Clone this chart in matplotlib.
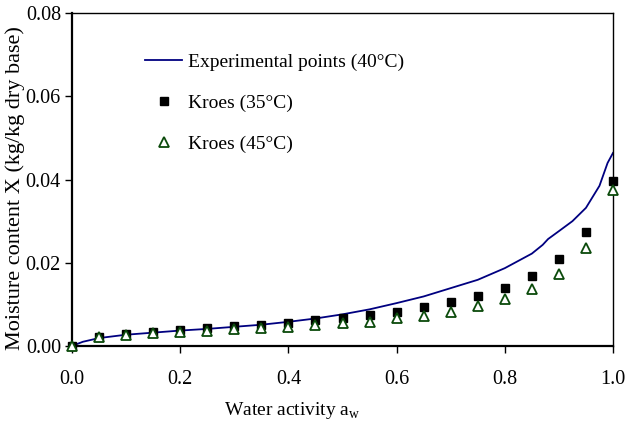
import numpy as np
import matplotlib
matplotlib.use("Agg")
import matplotlib.pyplot as plt

plt.rcParams['font.family'] = ['Liberation Serif', 'DejaVu Serif']
plt.rcParams['mathtext.fontset'] = 'custom'
plt.rcParams['mathtext.rm'] = 'Liberation Serif'

# experimental sorption curve at 40 C
aw_exp = [0.0, 0.02, 0.05, 0.1, 0.15, 0.2, 0.25, 0.3, 0.35, 0.4, 0.45, 0.5,
          0.55, 0.6, 0.65, 0.7, 0.75, 0.8, 0.85, 0.87, 0.88, 0.9, 0.925,
          0.95, 0.975, 0.99, 1.0]
x_exp = [0.0, 0.0010, 0.0019, 0.0027, 0.0032, 0.0037, 0.0041, 0.0046, 0.0051,
         0.0058, 0.0066, 0.0076, 0.0088, 0.0103, 0.0119, 0.0139, 0.0159,
         0.0187, 0.0222, 0.0243, 0.0257, 0.0276, 0.0300, 0.0332, 0.0385,
         0.0440, 0.0464]

# Kroes model points
aw_kroes = [0.0, 0.05, 0.1, 0.15, 0.2, 0.25, 0.3, 0.35, 0.4, 0.45, 0.5, 0.55,
            0.6, 0.65, 0.7, 0.75, 0.8, 0.85, 0.9, 0.95, 1.0]
x_35 = [0.0, 0.0021, 0.0028, 0.0034, 0.0038, 0.0042, 0.0048, 0.0050, 0.0056,
        0.0062, 0.0067, 0.0075, 0.0082, 0.0093, 0.0105, 0.0120, 0.0140,
        0.0167, 0.0208, 0.0273, 0.0397]
x_45 = [0.0, 0.0022, 0.0027, 0.0032, 0.0034, 0.0036, 0.0041, 0.0042, 0.0046,
        0.0050, 0.0054, 0.0058, 0.0066, 0.0073, 0.0082, 0.0097, 0.0112,
        0.0137, 0.0173, 0.0236, 0.0375]

fig = plt.figure(figsize=(6.25, 4.25), dpi=100)
ax = fig.add_axes([0.1152, 0.186, 0.8656, 0.783])

ax.plot(aw_exp, x_exp, color='#000080', lw=1.3, label='Experimental points (40°C)', zorder=2)
ax.plot(aw_kroes, x_35, ls='none', marker='s', ms=5.8, color='black',
        label='Kroes (35°C)', zorder=3, clip_on=False)
ax.plot(aw_kroes, x_45, ls='none', marker='^', ms=7, mfc='white', mec='#0b4a0b',
        mew=1.3, label='Kroes (45°C)', zorder=4, clip_on=False)

ax.set_xlim(0, 1.0)
ax.set_ylim(0, 0.08)
ax.set_xticks(np.arange(0, 1.01, 0.2))
ax.set_yticks(np.arange(0, 0.081, 0.02))
ax.set_xticklabels(['0.0', '0.2', '0.4', '0.6', '0.8', '1.0'])
ax.set_yticklabels(['0.00', '0.02', '0.04', '0.06', '0.08'])
ax.tick_params(direction='out', length=5, width=1, labelsize=14.5)
ax.tick_params(axis='x', pad=12)
ax.tick_params(axis='y', pad=3)

for s in ['left', 'bottom']:
    ax.spines[s].set_linewidth(1.6)
for s in ['top', 'right']:
    ax.spines[s].set_linewidth(1.0)

ax.set_xlabel('Water activity a$_\\mathregular{w}$', fontsize=14, va='center')
ax.xaxis.set_label_coords(0.407, -0.195)
ax.set_ylabel('Moisture content X (kg/kg dry base)', fontsize=16, va='center')
ax.yaxis.set_label_coords(-0.105, 0.474)

ax.legend(loc='upper left', bbox_to_anchor=(0.135, 0.88), frameon=False,
          fontsize=14, borderpad=0, borderaxespad=0, handlelength=1.9,
          handletextpad=0.3, labelspacing=1.2)

fig.savefig('out.png', dpi=100)
